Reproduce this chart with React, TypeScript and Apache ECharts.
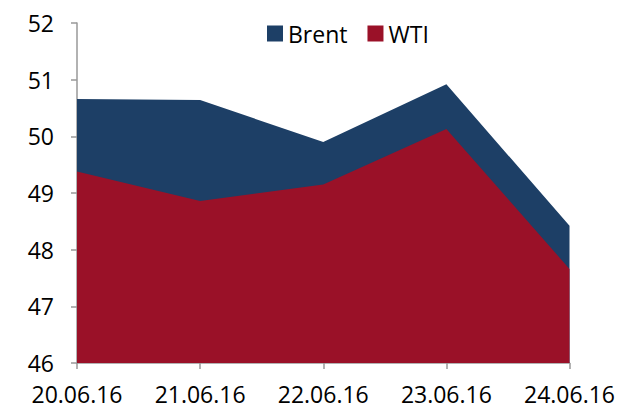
import React, { useEffect, useRef } from "react";
import * as echarts from "echarts";

const categories = ["20.06.16", "21.06.16", "22.06.16", "23.06.16", "24.06.16"];
const brent = [50.66, 50.64, 49.9, 50.92, 48.42];
const wti = [49.38, 48.86, 49.15, 50.13, 47.66];
const yTicks = { min: 46, max: 52, interval: 1 };

export default function App() {
  const ref = useRef<HTMLDivElement>(null);
  useEffect(() => {
    if (!ref.current) return;
    const chart = echarts.init(ref.current, null, { renderer: "svg" });
    const font = "'Open Sans', sans-serif";
    chart.setOption({
      animation: false,
      backgroundColor: "#ffffff",
      textStyle: { fontFamily: font },
      legend: {
        left: 262,
        top: 17,
        icon: "rect",
        itemWidth: 16,
        itemHeight: 16,
        itemGap: 20,
        textStyle: { fontFamily: font, fontSize: 23, color: "#000" },
        data: ["Brent", "WTI"],
      },
      grid: { left: 77, right: 48, top: 23, bottom: 45, containLabel: false },
      xAxis: {
        type: "category",
        data: categories,
        boundaryGap: false,
        axisLine: { lineStyle: { color: "#999", width: 1.5 } },
        axisTick: { show: true, length: 6, lineStyle: { color: "#999", width: 1.5 } },
        axisLabel: { fontFamily: font, fontSize: 23, lineHeight: 23, color: "#000", margin: 19 },
        splitLine: { show: false },
      },
      yAxis: {
        type: "value",
        min: yTicks.min,
        max: yTicks.max,
        interval: yTicks.interval,
        axisLine: { show: true, lineStyle: { color: "#999", width: 1.5 } },
        axisTick: { show: true, length: 6, lineStyle: { color: "#999", width: 1.5 } },
        axisLabel: { fontFamily: font, fontSize: 23, color: "#000", margin: 23 },
        splitLine: { show: false },
      },
      series: [
        {
          name: "Brent",
          type: "line",
          data: brent,
          showSymbol: false,
          symbol: "none",
          lineStyle: { width: 0 },
          itemStyle: { color: "#1D3F66" },
          areaStyle: { color: "#1D3F66", opacity: 1, origin: "start" },
          z: 1,
        },
        {
          name: "WTI",
          type: "line",
          data: wti,
          showSymbol: false,
          symbol: "none",
          lineStyle: { width: 0 },
          itemStyle: { color: "#9A1128" },
          areaStyle: { color: "#9A1128", opacity: 1, origin: "start" },
          z: 2,
        },
      ],
    });
    return () => chart.dispose();
  }, []);
  return <div ref={ref} style={{ width: 618, height: 408, position: "absolute", left: 0, top: 0 }} />;
}
